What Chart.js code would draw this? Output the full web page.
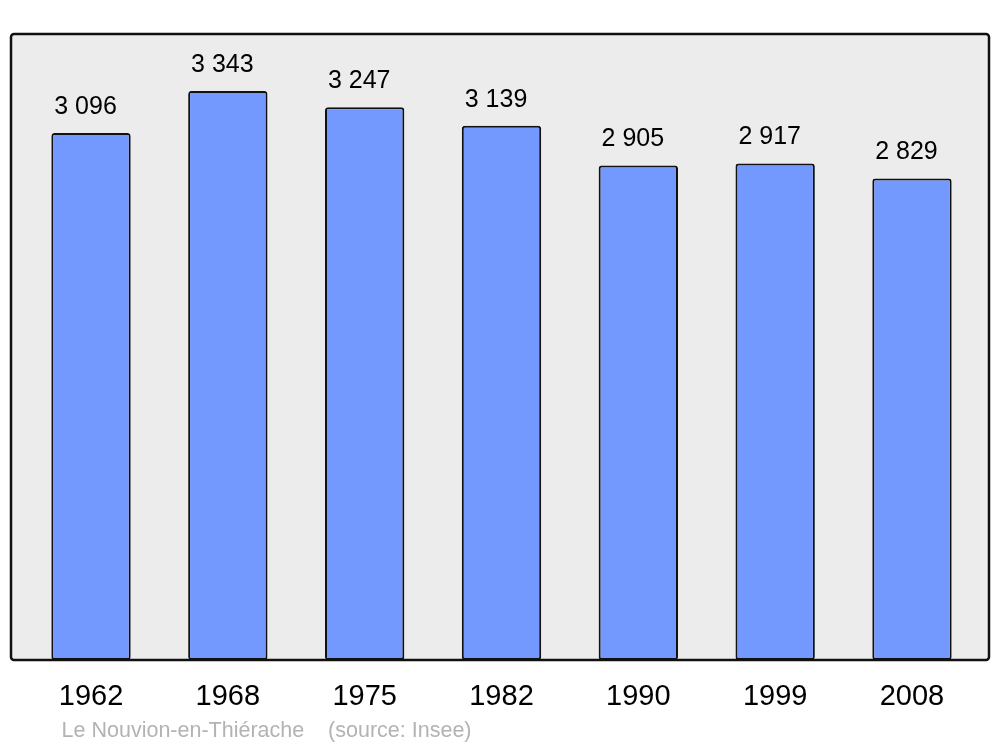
<!DOCTYPE html>
<html>
<head>
<meta charset="utf-8">
<script src="https://cdn.jsdelivr.net/npm/chart.js@4/dist/chart.umd.min.js"></script>
<style>
    body { margin: 0; background: #ffffff; }
    canvas { display: block; }
</style>
</head>
<body>
<canvas id="popChart" width="1000" height="747"></canvas>
<script>
const years = ["1962", "1968", "1975", "1982", "1990", "1999", "2008"];
const population = [3096, 3343, 3247, 3139, 2905, 2917, 2829];
const sourceText = "Le Nouvion-en-Thiérache    (source: Insee)";

function formatPop(value) {
    return String(value).replace(/\B(?=(\d{3})+(?!\d))/g, " ");
}

const frameAndLabels = {
    id: "frameAndLabels",
    beforeDatasetsDraw(chart) {
        const { ctx, chartArea } = chart;
        ctx.save();
        ctx.fillStyle = "#ececec";
        ctx.beginPath();
        ctx.roundRect(chartArea.left - 11.6, chartArea.top, chartArea.width + 11.6 + 8.6, chartArea.height, 3);
        ctx.fill();
        ctx.restore();
    },
    afterDatasetsDraw(chart) {
        const { ctx, chartArea } = chart;
        ctx.save();
        ctx.strokeStyle = "#111111";
        ctx.lineWidth = 2.5;
        ctx.beginPath();
        ctx.roundRect(chartArea.left - 11.6, chartArea.top, chartArea.width + 11.6 + 8.6, chartArea.height, 3);
        ctx.stroke();

        const meta = chart.getDatasetMeta(0);
        ctx.fillStyle = "#000000";
        ctx.font = "25px 'Liberation Sans', Arial, sans-serif";
        ctx.textAlign = "center";
        ctx.textBaseline = "alphabetic";
        meta.data.forEach((bar, i) => {
            ctx.fillText(formatPop(population[i]), bar.x - 5.5, bar.y - 19);
        });

        ctx.fillStyle = "#b3b3b3";
        ctx.font = "21.5px 'Liberation Sans', Arial, sans-serif";
        ctx.textAlign = "left";
        ctx.fillText(sourceText, chartArea.left + 39, 737);
        ctx.restore();
    },
};

new Chart(document.getElementById("popChart"), {
    type: "bar",
    data: {
        labels: years,
        datasets: [
            {
                data: population,
                backgroundColor: "#7399ff",
                borderColor: "#111111",
                borderWidth: 2,
                borderRadius: 3,
                borderSkipped: false,
                categoryPercentage: 1,
                barPercentage: 0.58,
            },
        ],
    },
    options: {
        responsive: false,
        animation: false,
        devicePixelRatio: 1,
        layout: {
            padding: { top: 34, left: 22.6, right: 19.6, bottom: 12.2 },
        },
        scales: {
            x: {
                grid: { display: false, drawTicks: false },
                border: { display: false },
                ticks: {
                    color: "#000000",
                    padding: 20,
                    font: { family: "'Liberation Sans', Arial, sans-serif", size: 29 },
                },
            },
            y: {
                display: false,
                min: 0,
                max: 3343 * 1.1,
            },
        },
        plugins: {
            legend: { display: false },
            tooltip: { enabled: false },
        },
    },
    plugins: [frameAndLabels],
});
</script>
</body>
</html>
